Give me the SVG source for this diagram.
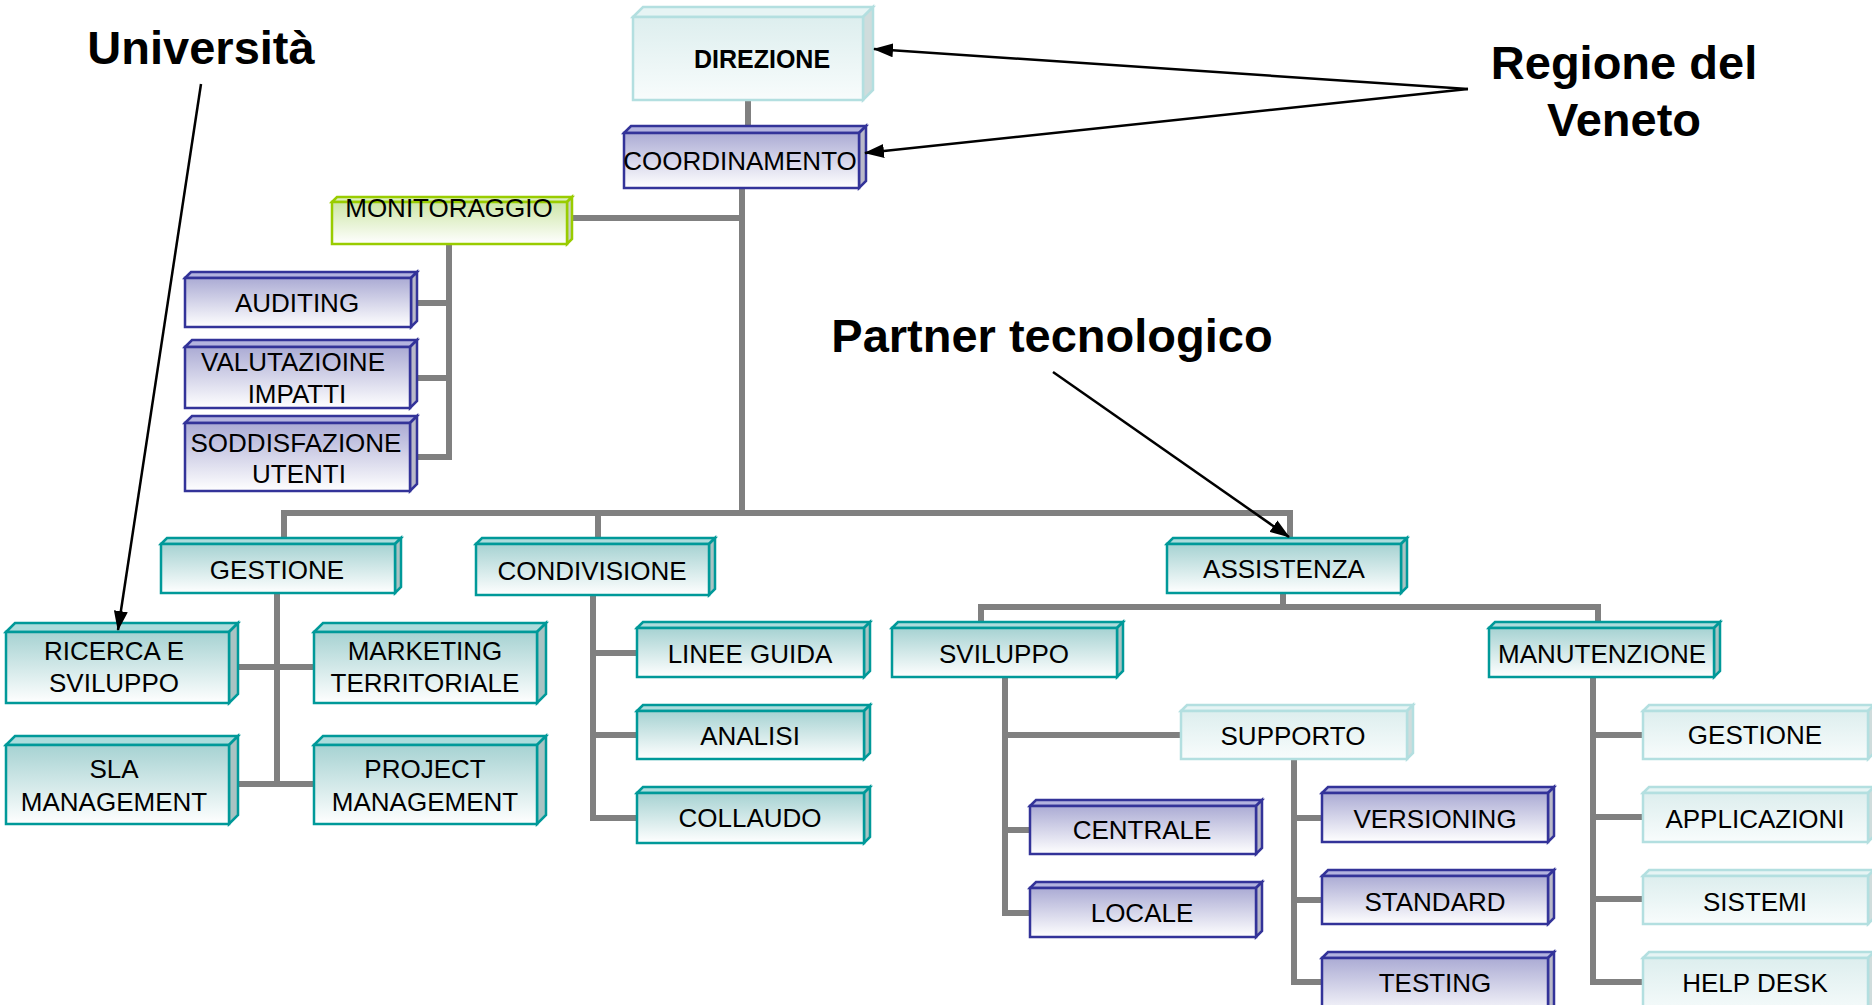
<svg xmlns="http://www.w3.org/2000/svg" width="1872" height="1005" viewBox="0 0 1872 1005">
<style>
  .lbl { font-family: "Liberation Sans", Arial, sans-serif; font-size: 26px; text-anchor: middle; fill: #000; }
  .big { font-family: "Liberation Sans", Arial, sans-serif; font-size: 47px; font-weight: bold; text-anchor: middle; fill: #000; }
  .box rect, .box polygon { stroke-width: 2.5; stroke-linejoin: miter; }
  .blue rect { fill: url(#gBlue); stroke: #333399; }
  .blue .top { fill: #b3b3df; stroke: #333399; }
  .blue .side { fill: #b9b9c9; stroke: #333399; }
  .teal rect { fill: url(#gTeal); stroke: #009999; }
  .teal .top { fill: #acdcdc; stroke: #009999; }
  .teal .side { fill: #a9c3c3; stroke: #009999; }
  .cyan rect { fill: url(#gCyan); stroke: #b3dfe0; }
  .cyan .top { fill: #e6f4f4; stroke: #b3dfe0; }
  .cyan .side { fill: #cfdcdc; stroke: #b3dfe0; }
  .green rect { fill: url(#gGreen); stroke: #99cc00; }
  .green .top { fill: #dcefc0; stroke: #99cc00; }
  .green .side { fill: #c9cfc2; stroke: #99cc00; }
  .conn { fill: none; stroke: #808080; stroke-width: 6; stroke-linejoin: miter; stroke-linecap: square; }
  .arr { fill: none; stroke: #000; stroke-width: 2.5; marker-end: url(#ah); }
</style>
<defs>
  <linearGradient id="gBlue" x1="0" y1="0" x2="0" y2="1">
    <stop offset="0" stop-color="#ababd4"/>
    <stop offset="1" stop-color="#ffffff"/>
  </linearGradient>
  <linearGradient id="gTeal" x1="0" y1="0" x2="0" y2="1">
    <stop offset="0" stop-color="#a6d2d2"/>
    <stop offset="1" stop-color="#ffffff"/>
  </linearGradient>
  <linearGradient id="gCyan" x1="0" y1="0" x2="0" y2="1">
    <stop offset="0" stop-color="#ddeeee"/>
    <stop offset="1" stop-color="#f8fcfc"/>
  </linearGradient>
  <linearGradient id="gGreen" x1="0" y1="0" x2="0" y2="1">
    <stop offset="0" stop-color="#cde6a6"/>
    <stop offset="1" stop-color="#ffffff"/>
  </linearGradient>
  <marker id="ah" viewBox="0 0 20 14" refX="19" refY="7" markerWidth="20" markerHeight="14" markerUnits="userSpaceOnUse" orient="auto">
    <path d="M0,0 L20,7 L0,14 Z" fill="#000"/>
  </marker>
</defs>
<rect width="1872" height="1005" fill="#ffffff"/>

<g id="connectors">
  <line class="conn" x1="748" y1="100" x2="748" y2="126"/>
  <line class="conn" x1="742" y1="188" x2="742" y2="513"/>
  <line class="conn" x1="572" y1="218" x2="742" y2="218"/>
  <polyline class="conn" points="449,244 449,457 414,457"/>
  <line class="conn" x1="414" y1="303" x2="449" y2="303"/>
  <line class="conn" x1="414" y1="378" x2="449" y2="378"/>
  <polyline class="conn" points="284,538 284,513 1290,513 1290,538"/>
  <line class="conn" x1="598" y1="513" x2="598" y2="538"/>
  <line class="conn" x1="277" y1="593" x2="277" y2="784"/>
  <line class="conn" x1="232" y1="667" x2="314" y2="667"/>
  <line class="conn" x1="232" y1="784" x2="314" y2="784"/>
  <polyline class="conn" points="593,595 593,818 637,818"/>
  <line class="conn" x1="593" y1="653" x2="637" y2="653"/>
  <line class="conn" x1="593" y1="735" x2="637" y2="735"/>
  <line class="conn" x1="1283" y1="593" x2="1283" y2="607"/>
  <polyline class="conn" points="981,623 981,607 1598,607 1598,623"/>
  <polyline class="conn" points="1005,677 1005,913 1030,913"/>
  <line class="conn" x1="1005" y1="735" x2="1181" y2="735"/>
  <line class="conn" x1="1005" y1="830" x2="1030" y2="830"/>
  <polyline class="conn" points="1294,759 1294,982 1322,982"/>
  <line class="conn" x1="1294" y1="818" x2="1322" y2="818"/>
  <line class="conn" x1="1294" y1="900" x2="1322" y2="900"/>
  <polyline class="conn" points="1593,677 1593,982 1640,982"/>
  <line class="conn" x1="1593" y1="735" x2="1640" y2="735"/>
  <line class="conn" x1="1593" y1="817" x2="1640" y2="817"/>
  <line class="conn" x1="1593" y1="899" x2="1640" y2="899"/>
</g>

<g id="n-direzione" class="box cyan">
  <polygon class="top" points="633,17 643,7 873,7 863,17"/>
  <polygon class="side" points="863,17 873,7 873,90 863,100"/>
  <rect x="633" y="17" width="230" height="83"/>
  <text class="lbl" x="762" y="68" style="font-weight:bold;font-size:25px">DIREZIONE</text>
</g>
<g id="n-coordinamento" class="box blue">
  <polygon class="top" points="624,133 631,126 866,126 859,133"/>
  <polygon class="side" points="859,133 866,126 866,181 859,188"/>
  <rect x="624" y="133" width="235" height="55"/>
  <text class="lbl" x="740" y="170">COORDINAMENTO</text>
</g>
<g id="n-monitoraggio" class="box green">
  <polygon class="top" points="332,202 337,197 572,197 567,202"/>
  <polygon class="side" points="567,202 572,197 572,239 567,244"/>
  <rect x="332" y="202" width="235" height="42"/>
  <text class="lbl" x="449" y="217">MONITORAGGIO</text>
</g>
<g id="n-auditing" class="box blue">
  <polygon class="top" points="185,278 191,272 417,272 411,278"/>
  <polygon class="side" points="411,278 417,272 417,321 411,327"/>
  <rect x="185" y="278" width="226" height="49"/>
  <text class="lbl" x="297" y="312">AUDITING</text>
</g>
<g id="n-valutazione" class="box blue">
  <polygon class="top" points="185,347 192,340 417,340 410,347"/>
  <polygon class="side" points="410,347 417,340 417,401 410,408"/>
  <rect x="185" y="347" width="225" height="61"/>
  <text class="lbl" x="293" y="371">VALUTAZIOINE</text>
  <text class="lbl" x="297" y="403">IMPATTI</text>
</g>
<g id="n-soddisfazione" class="box blue">
  <polygon class="top" points="185,423 192,416 417,416 410,423"/>
  <polygon class="side" points="410,423 417,416 417,484 410,491"/>
  <rect x="185" y="423" width="225" height="68"/>
  <text class="lbl" x="296" y="452">SODDISFAZIONE</text>
  <text class="lbl" x="299" y="483">UTENTI</text>
</g>
<g id="n-gestione" class="box teal">
  <polygon class="top" points="161,544 167,538 401,538 395,544"/>
  <polygon class="side" points="395,544 401,538 401,587 395,593"/>
  <rect x="161" y="544" width="234" height="49"/>
  <text class="lbl" x="277" y="579">GESTIONE</text>
</g>
<g id="n-condivisione" class="box teal">
  <polygon class="top" points="476,544 482,538 715,538 709,544"/>
  <polygon class="side" points="709,544 715,538 715,589 709,595"/>
  <rect x="476" y="544" width="233" height="51"/>
  <text class="lbl" x="592" y="580">CONDIVISIONE</text>
</g>
<g id="n-assistenza" class="box teal">
  <polygon class="top" points="1167,544 1173,538 1407,538 1401,544"/>
  <polygon class="side" points="1401,544 1407,538 1407,587 1401,593"/>
  <rect x="1167" y="544" width="234" height="49"/>
  <text class="lbl" x="1284" y="578">ASSISTENZA</text>
</g>
<g id="n-ricerca" class="box teal">
  <polygon class="top" points="6,632 15,623 238,623 229,632"/>
  <polygon class="side" points="229,632 238,623 238,694 229,703"/>
  <rect x="6" y="632" width="223" height="71"/>
  <text class="lbl" x="114" y="660">RICERCA E</text>
  <text class="lbl" x="114" y="692">SVILUPPO</text>
</g>
<g id="n-marketing" class="box teal">
  <polygon class="top" points="314,632 323,623 546,623 537,632"/>
  <polygon class="side" points="537,632 546,623 546,694 537,703"/>
  <rect x="314" y="632" width="223" height="71"/>
  <text class="lbl" x="425" y="660">MARKETING</text>
  <text class="lbl" x="425" y="692">TERRITORIALE</text>
</g>
<g id="n-sla" class="box teal">
  <polygon class="top" points="6,745 15,736 238,736 229,745"/>
  <polygon class="side" points="229,745 238,736 238,815 229,824"/>
  <rect x="6" y="745" width="223" height="79"/>
  <text class="lbl" x="114" y="778">SLA</text>
  <text class="lbl" x="114" y="811">MANAGEMENT</text>
</g>
<g id="n-project" class="box teal">
  <polygon class="top" points="314,745 323,736 546,736 537,745"/>
  <polygon class="side" points="537,745 546,736 546,815 537,824"/>
  <rect x="314" y="745" width="223" height="79"/>
  <text class="lbl" x="425" y="778">PROJECT</text>
  <text class="lbl" x="425" y="811">MANAGEMENT</text>
</g>
<g id="n-linee-guida" class="box teal">
  <polygon class="top" points="637,628 643,622 870,622 864,628"/>
  <polygon class="side" points="864,628 870,622 870,671 864,677"/>
  <rect x="637" y="628" width="227" height="49"/>
  <text class="lbl" x="750" y="663">LINEE GUIDA</text>
</g>
<g id="n-analisi" class="box teal">
  <polygon class="top" points="637,711 643,705 870,705 864,711"/>
  <polygon class="side" points="864,711 870,705 870,753 864,759"/>
  <rect x="637" y="711" width="227" height="48"/>
  <text class="lbl" x="750" y="745">ANALISI</text>
</g>
<g id="n-collaudo" class="box teal">
  <polygon class="top" points="637,793 643,787 870,787 864,793"/>
  <polygon class="side" points="864,793 870,787 870,837 864,843"/>
  <rect x="637" y="793" width="227" height="50"/>
  <text class="lbl" x="750" y="827">COLLAUDO</text>
</g>
<g id="n-sviluppo" class="box teal">
  <polygon class="top" points="892,628 898,622 1123,622 1117,628"/>
  <polygon class="side" points="1117,628 1123,622 1123,671 1117,677"/>
  <rect x="892" y="628" width="225" height="49"/>
  <text class="lbl" x="1004" y="663">SVILUPPO</text>
</g>
<g id="n-manutenzione" class="box teal">
  <polygon class="top" points="1489,628 1495,622 1720,622 1714,628"/>
  <polygon class="side" points="1714,628 1720,622 1720,671 1714,677"/>
  <rect x="1489" y="628" width="225" height="49"/>
  <text class="lbl" x="1602" y="663">MANUTENZIONE</text>
</g>
<g id="n-supporto" class="box cyan">
  <polygon class="top" points="1181,711 1187,705 1413,705 1407,711"/>
  <polygon class="side" points="1407,711 1413,705 1413,753 1407,759"/>
  <rect x="1181" y="711" width="226" height="48"/>
  <text class="lbl" x="1293" y="745">SUPPORTO</text>
</g>
<g id="n-centrale" class="box blue">
  <polygon class="top" points="1030,806 1036,800 1262,800 1256,806"/>
  <polygon class="side" points="1256,806 1262,800 1262,848 1256,854"/>
  <rect x="1030" y="806" width="226" height="48"/>
  <text class="lbl" x="1142" y="839">CENTRALE</text>
</g>
<g id="n-locale" class="box blue">
  <polygon class="top" points="1030,888 1036,882 1262,882 1256,888"/>
  <polygon class="side" points="1256,888 1262,882 1262,931 1256,937"/>
  <rect x="1030" y="888" width="226" height="49"/>
  <text class="lbl" x="1142" y="922">LOCALE</text>
</g>
<g id="n-versioning" class="box blue">
  <polygon class="top" points="1322,793 1328,787 1554,787 1548,793"/>
  <polygon class="side" points="1548,793 1554,787 1554,836 1548,842"/>
  <rect x="1322" y="793" width="226" height="49"/>
  <text class="lbl" x="1435" y="828">VERSIONING</text>
</g>
<g id="n-standard" class="box blue">
  <polygon class="top" points="1322,876 1328,870 1554,870 1548,876"/>
  <polygon class="side" points="1548,876 1554,870 1554,918 1548,924"/>
  <rect x="1322" y="876" width="226" height="48"/>
  <text class="lbl" x="1435" y="911">STANDARD</text>
</g>
<g id="n-testing" class="box blue">
  <polygon class="top" points="1322,958 1328,952 1554,952 1548,958"/>
  <polygon class="side" points="1548,958 1554,952 1554,1012 1548,1018"/>
  <rect x="1322" y="958" width="226" height="60"/>
  <text class="lbl" x="1435" y="992">TESTING</text>
</g>
<g id="n-gestione-man" class="box cyan">
  <polygon class="top" points="1643,711 1649,705 1874,705 1868,711"/>
  <polygon class="side" points="1868,711 1874,705 1874,753 1868,759"/>
  <rect x="1643" y="711" width="225" height="48"/>
  <text class="lbl" x="1755" y="744">GESTIONE</text>
</g>
<g id="n-applicazioni" class="box cyan">
  <polygon class="top" points="1643,793 1649,787 1874,787 1868,793"/>
  <polygon class="side" points="1868,793 1874,787 1874,836 1868,842"/>
  <rect x="1643" y="793" width="225" height="49"/>
  <text class="lbl" x="1755" y="828">APPLICAZIONI</text>
</g>
<g id="n-sistemi" class="box cyan">
  <polygon class="top" points="1643,876 1649,870 1874,870 1868,876"/>
  <polygon class="side" points="1868,876 1874,870 1874,918 1868,924"/>
  <rect x="1643" y="876" width="225" height="48"/>
  <text class="lbl" x="1755" y="911">SISTEMI</text>
</g>
<g id="n-helpdesk" class="box cyan">
  <polygon class="top" points="1643,958 1649,952 1874,952 1868,958"/>
  <polygon class="side" points="1868,958 1874,952 1874,1012 1868,1018"/>
  <rect x="1643" y="958" width="225" height="60"/>
  <text class="lbl" x="1755" y="992">HELP DESK</text>
</g>

<g id="annotations">
  <text class="big" x="201" y="64">Università</text>
  <text class="big" x="1052" y="352">Partner tecnologico</text>
  <text class="big" x="1624" y="79">Regione del</text>
  <text class="big" x="1624" y="136">Veneto</text>
  <line class="arr" x1="201" y1="84" x2="118" y2="630"/>
  <line class="arr" x1="1053" y1="372" x2="1289" y2="537"/>
  <line class="arr" x1="1468" y1="89" x2="874" y2="49"/>
  <line class="arr" x1="1468" y1="89" x2="865" y2="153"/>
</g>
</svg>
